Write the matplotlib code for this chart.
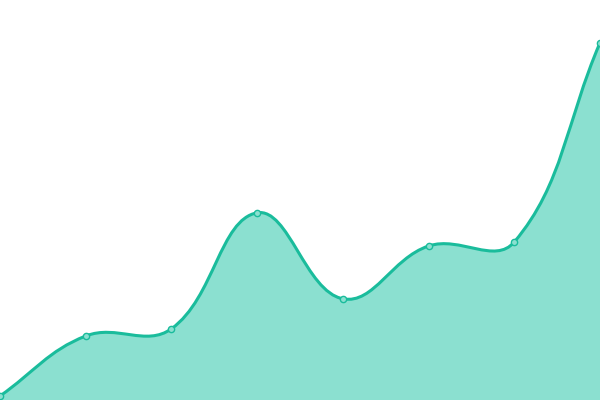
import numpy as np
import matplotlib
matplotlib.use("Agg")
import matplotlib.pyplot as plt
from matplotlib.path import Path
from matplotlib.patches import PathPatch

labels = ["1", "2", "3", "4", "5", "6", "7", "8"]
values = [1, 16, 17.8, 46.8, 25.3, 38.5, 39.5, 89.3]

line_color = "#1abc9c"
fill_color = "#8be0d0"
tension = 0.4

fig = plt.figure(figsize=(6, 4), dpi=100)
ax = fig.add_axes([0, 0, 1, 1])
ax.set_xlim(0, len(values) - 1)
ax.set_ylim(0, 100)
ax.axis("off")

# smooth curve (chart.js-like spline), control points worked out in display space
x = np.arange(len(values), dtype=float)
pts = ax.transData.transform(np.column_stack([x, values]))
n = len(pts)
cps = []
for i in range(n):
    prev = pts[max(i - 1, 0)]
    cur = pts[i]
    nxt = pts[min(i + 1, n - 1)]
    d01 = np.hypot(*(cur - prev))
    d12 = np.hypot(*(nxt - cur))
    tot = d01 + d12
    s01 = d01 / tot if tot else 0
    s12 = d12 / tot if tot else 0
    cps.append((cur - tension * s01 * (nxt - prev), cur + tension * s12 * (nxt - prev)))

verts = [pts[0]]
codes = [Path.MOVETO]
for i in range(n - 1):
    verts += [cps[i][1], cps[i + 1][0], pts[i + 1]]
    codes += [Path.CURVE4] * 3
inv = ax.transData.inverted()
verts_d = inv.transform(np.array(verts))

line_path = Path(verts_d, codes)
fill_verts = np.vstack([verts_d, [[x[-1], 0], [x[0], 0], verts_d[0]]])
fill_codes = codes + [Path.LINETO, Path.LINETO, Path.CLOSEPOLY]
ax.add_patch(PathPatch(Path(fill_verts, fill_codes), facecolor=fill_color, edgecolor="none"))
ax.add_patch(PathPatch(line_path, facecolor="none", edgecolor=line_color, lw=2.2))

ax.plot(x, values, "o", ms=4.5, mfc=fill_color, mec=line_color, mew=1, clip_on=False)

fig.savefig("out.png", dpi=100)
